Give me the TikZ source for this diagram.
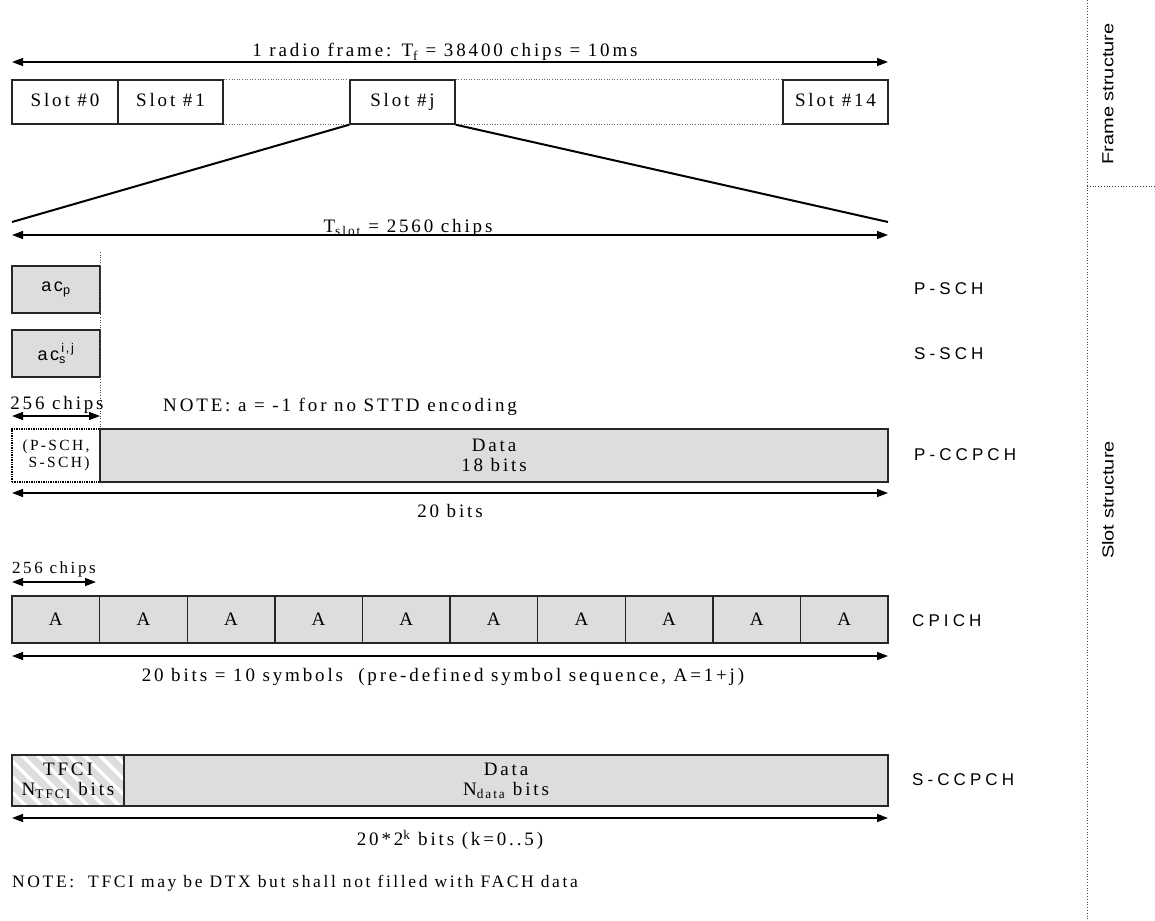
\documentclass[tikz,border=0pt]{standalone}
\usepackage{fontspec}
\setmainfont{Liberation Serif}[LetterSpace=15]
\newfontfamily\lblfont{Liberation Sans}[LetterSpace=24]
\newfontfamily\acfont{Liberation Sans}[LetterSpace=14]
\newfontfamily\sidefont{Liberation Sans}
\usetikzlibrary{arrows.meta,patterns.meta}
\definecolor{boxgray}{HTML}{DDDDDD}
\tikzset{
  serif/.style={font=\fontsize{19}{20}\selectfont},
  small/.style={font=\fontsize{15.5}{17}\selectfont},
  chlabel/.style={font=\lblfont\fontsize{17}{19}\selectfont, anchor=west, inner sep=0pt},
  slotbox/.style={draw=black!85, line width=1.4pt, inner sep=0pt, minimum height=44pt, serif, text height=12.5pt, text depth=3.5pt},
  graybox/.style={draw=black!85, fill=boxgray, line width=1.4pt, inner sep=0pt},
  dimarrow/.style={{Triangle[length=11pt,width=8pt]}-{Triangle[length=11pt,width=8pt]}, line width=1.4pt},
  thinline/.style={line width=0.6pt, dotted, black!60},
  zoomline/.style={line width=2pt},
}
\begin{document}
\begin{tikzpicture}[x=1pt,y=-1pt]
\useasboundingbox (0,0) rectangle (1155,920);

% ---------- Frame structure ----------
\coordinate (fa) at (12,62);
\coordinate (fb) at (888,62);
\draw[dimarrow] (fa) -- (fb);
\node[serif, anchor=base] (flab) at (445,57) {1 radio frame: T\textsubscript{f} = 38400 chips = 10ms};

\node[slotbox, minimum width=106pt] (s0) at (65,102) {Slot \#0};
\node[slotbox, minimum width=105pt] (s1) at (170.5,102) {Slot \#1};
\node[slotbox, minimum width=105pt] (sj) at (402.5,102) {Slot \#j};
\node[slotbox, minimum width=105pt] (s14) at (835.5,102) {Slot \#14};
\draw[thinline] (s1.north east) -- (sj.north west);
\draw[thinline] (s1.south east) -- (sj.south west);
\draw[thinline] (sj.north east) -- (s14.north west);
\draw[thinline] (sj.south east) -- (s14.south west);

\coordinate (tl) at (12,222);
\coordinate (tr) at (888,222);
\draw[zoomline] (sj.south west) -- (tl);
\draw[zoomline] (sj.south east) -- (tr);

% ---------- Slot ----------
\coordinate (sa) at (12,235);
\coordinate (sb) at (888,235);
\draw[dimarrow] (sa) -- (sb);
\node[serif, anchor=base] (slab) at (408,232) {T\textsubscript{slot} = 2560 chips};

% P-SCH / S-SCH
\node[graybox, minimum width=88pt, minimum height=47pt, font=\acfont\fontsize{18}{20}\selectfont] (psch) at (56,289.5) {ac\textsubscript{p}};
\node[graybox, minimum width=88pt, minimum height=47pt, font=\acfont\fontsize{18}{20}\selectfont] (ssch) at (56,353.5) {ac\rlap{\textsubscript{s}}\raisebox{2pt}{\textsuperscript{\,i,j}}};
\coordinate (vd1) at (100,252);
\coordinate (vd2) at (100,430);
\draw[line width=0.6pt, dotted, black!70] (vd1) -- (vd2);

\node[serif, anchor=base] (c256a) at (57,409) {256 chips};
\coordinate (ca1) at (12,416);
\coordinate (ca2) at (100,416);
\draw[dimarrow] (ca1) -- (ca2);
\node[serif, anchor=base west, inner sep=0pt] (note1) at (163,411) {NOTE: a = -1 for no STTD encoding};

% P-CCPCH
\node[draw=black, densely dotted, line width=1.4pt, minimum width=88pt, minimum height=53pt, inner sep=0pt, small, align=center] (pccsch) at (56,455.5) {(P-SCH,\\ \ S-SCH)};
\node[graybox, minimum width=788pt, minimum height=53pt, serif, align=center] (pdata) at (494,455.5) {Data\\18 bits};
\coordinate (pa1) at (12,493);
\coordinate (pa2) at (888,493);
\draw[dimarrow] (pa1) -- (pa2);
\node[serif] (p20) at (450,511) {20 bits};

% CPICH
\node[anchor=base west, inner sep=0pt, font=\fontsize{17}{19}\selectfont] (c256b) at (12,573) {256 chips};
\coordinate (cb1) at (12,582);
\coordinate (cb2) at (96,582);
\draw[dimarrow] (cb1) -- (cb2);
\foreach \i in {0,...,9} {
  \node[graybox, minimum width=87.6pt, minimum height=47pt, serif] (cA\i) at ({12+43.8+87.6*\i},619.5) {A};
}
\coordinate (cc1) at (12,656);
\coordinate (cc2) at (888,656);
\draw[dimarrow] (cc1) -- (cc2);
\node[serif] (clab) at (443,677) {20 bits = 10 symbols \ (pre-defined symbol sequence, A=1+j)};

% S-CCPCH
\node[graybox, minimum width=112pt, minimum height=51pt] (tfcibg) at (68,780.5) {};
\fill[pattern={Lines[angle=-45,distance=11pt,line width=3.5pt]}, pattern color=white] (tfcibg.north west) rectangle (tfcibg.south east);
\node[draw=black!85, line width=1.4pt, minimum width=112pt, minimum height=51pt, inner sep=0pt, serif, align=center] (tfci) at (68,780.5) {TFCI\\N\textsubscript{TFCI} bits};
\node[graybox, minimum width=764pt, minimum height=51pt, serif, align=center] (sdata) at (506,780.5) {Data\\N\textsubscript{data} bits};
\coordinate (sc1) at (12,818);
\coordinate (sc2) at (888,818);
\draw[dimarrow] (sc1) -- (sc2);
\node[serif] (slab2) at (450,840) {20*2\textsuperscript{k} bits (k=0..5)};
\node[anchor=west, inner sep=0pt, font=\fontsize{17.5}{19}\selectfont] (note2) at (12,883) {NOTE: \ TFCI may be DTX but shall not filled with FACH data};

% channel labels
\node[chlabel] (lp) at (914,289) {P-SCH};
\node[chlabel] (ls) at (914,354) {S-SCH};
\node[chlabel] (lpc) at (914,455) {P-CCPCH};
\node[chlabel] (lc) at (912,621) {CPICH};
\node[chlabel] (lsc) at (912,780) {S-CCPCH};

% side structure
\coordinate (v1) at (1087,0);
\coordinate (v2) at (1087,920);
\draw[line width=0.8pt, dotted, black!70] (v1) -- (v2);
\coordinate (h1) at (1087,186);
\coordinate (h2) at (1155,186);
\draw[line width=0.8pt, dotted, black!80] (h1) -- (h2);
\node[rotate=90, font=\sidefont\fontsize{16}{19}\selectfont] (fs) at (1108,94) {\scalebox{1.25}[1]{Frame structure}};
\node[rotate=90, font=\sidefont\fontsize{16}{19}\selectfont] (ss) at (1108,500) {\scalebox{1.25}[1]{Slot structure}};
\end{tikzpicture}
\end{document}
